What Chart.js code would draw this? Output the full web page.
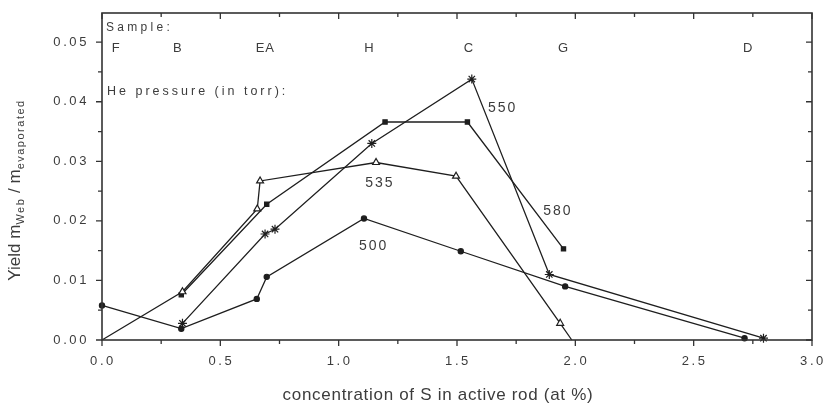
<!DOCTYPE html>
<html>
<head>
<meta charset="UTF-8" />
<title>Yield vs S concentration</title>
<script src="https://cdn.jsdelivr.net/npm/chart.js"></script>
<style>
  body { margin: 0; background: #fff; }
</style>
</head>
<body>
<canvas id="yieldChart" width="823" height="405"></canvas>
<script>
// He pressure series (torr): x = S concentration (at %), y = yield
const s500x = [0.0, 0.335, 0.654, 0.696, 1.107, 1.516, 1.957, 2.715];
const s500y = [0.0058, 0.0019, 0.0069, 0.0106, 0.0204, 0.0149, 0.0090, 0.0003];

const s535x = [0.0, 0.34, 0.656, 0.668, 1.158, 1.496, 1.936, 1.985];
const s535y = [0.0, 0.0081, 0.0220, 0.0267, 0.0298, 0.0275, 0.0028, 0.0];

const s550x = [0.34, 0.689, 0.731, 1.14, 1.5625, 1.89, 2.795];
const s550y = [0.0028, 0.0178, 0.0186, 0.0330, 0.0438, 0.0110, 0.0003];

const s580x = [0.335, 0.696, 1.196, 1.544, 1.95];
const s580y = [0.0076, 0.0228, 0.0366, 0.0366, 0.0153];

// sample names and where they sit on the concentration axis
const sampleNames = ["F", "B", "EA", "H", "C", "G", "D"];
const sampleAt = [0.06, 0.32, 0.69, 1.13, 1.55, 1.95, 2.73];

// pressure labels next to the curves (data coordinates)
const pressureNames = ["550", "535", "580", "500"];
const pressureAtX = [1.631, 1.112, 1.864, 1.086];
const pressureAtY = [0.039, 0.0263, 0.0217, 0.0157];

// axis ticks
const xLabels = [0, 0.5, 1.0, 1.5, 2.0, 2.5, 3.0];
const yLabels = [0, 0.01, 0.02, 0.03, 0.04, 0.05];
const xMax = 3.0;
const yMax = 0.0549;

const FONT = '"Liberation Sans", Arial, sans-serif';
const INK = "#1e1e1e";
const TEXT = "#3c3c3c";

function pts(xs, ys) {
  return xs.map((v, i) => ({ x: v, y: ys[i] }));
}

const frame = {
  id: "frame",
  afterDraw(chart) {
    const { ctx, chartArea: a, scales } = chart;
    const x = scales.x, y = scales.y;
    ctx.save();
    ctx.strokeStyle = "#333";
    ctx.lineWidth = 1.6;
    ctx.strokeRect(a.left, a.top, a.right - a.left, a.bottom - a.top);

    // ticks: out on bottom/left, in on top/right
    ctx.lineWidth = 1.3;
    ctx.beginPath();
    for (let i = 0; i <= 12; i++) {
      const px = x.getPixelForValue(i * 0.25);
      const len = i % 2 ? 4 : 6;
      ctx.moveTo(px, a.bottom); ctx.lineTo(px, a.bottom + len);
      ctx.moveTo(px, a.top); ctx.lineTo(px, a.top + len);
    }
    for (let i = 0; i <= 10; i++) {
      const py = y.getPixelForValue(i * 0.005);
      const len = i % 2 ? 4 : 6;
      ctx.moveTo(a.left, py); ctx.lineTo(a.left - len, py);
      ctx.moveTo(a.right, py); ctx.lineTo(a.right - len, py);
    }
    ctx.stroke();

    ctx.fillStyle = TEXT;
    ctx.textBaseline = "middle";

    // tick labels
    ctx.font = "13px " + FONT;
    ctx.letterSpacing = "2.6px";
    ctx.textAlign = "center";
    xLabels.forEach((v) => {
      ctx.fillText(v.toFixed(1), x.getPixelForValue(v) + 1, a.bottom + 21);
    });
    ctx.textAlign = "right";
    yLabels.forEach((v) => {
      ctx.fillText(v.toFixed(2), a.left - 13, y.getPixelForValue(v));
    });

    // sample row
    ctx.font = "12px " + FONT;
    ctx.letterSpacing = "3.3px";
    ctx.textAlign = "left";
    ctx.fillText("Sample:", a.left + 4, a.top + 15);
    ctx.letterSpacing = "1px";
    ctx.font = "13px " + FONT;
    ctx.textAlign = "center";
    sampleNames.forEach((n, i) => {
      ctx.fillText(n, x.getPixelForValue(sampleAt[i]), a.top + 35);
    });

    ctx.font = "12.5px " + FONT;
    ctx.letterSpacing = "3px";
    ctx.textAlign = "left";
    ctx.fillText("He pressure (in torr):", a.left + 5, a.top + 79);

    // curve labels
    ctx.font = "14px " + FONT;
    ctx.letterSpacing = "2px";
    pressureNames.forEach((n, i) => {
      ctx.fillText(n, x.getPixelForValue(pressureAtX[i]), y.getPixelForValue(pressureAtY[i]));
    });

    // x axis title
    ctx.font = "17px " + FONT;
    ctx.letterSpacing = "0.7px";
    ctx.textAlign = "center";
    ctx.fillText("concentration of S in active rod (at %)", 438, 395);

    // y axis title with subscripts
    const parts = [
      ["Yield m", 17, 0, 0],
      ["Web", 11, 4, 1.5],
      [" / m", 17, 0, 0],
      ["evaporated", 11, 4, 1.5],
    ];
    let w = 0;
    parts.forEach(([t, s, dy, ls]) => {
      ctx.font = s + "px " + FONT;
      ctx.letterSpacing = ls + "px";
      w += ctx.measureText(t).width;
    });
    ctx.translate(20, 190);
    ctx.rotate(-Math.PI / 2);
    ctx.textAlign = "left";
    ctx.textBaseline = "alphabetic";
    let tx = -w / 2;
    parts.forEach(([t, s, dy, ls]) => {
      ctx.font = s + "px " + FONT;
      ctx.letterSpacing = ls + "px";
      ctx.fillText(t, tx, dy);
      tx += ctx.measureText(t).width;
    });
    ctx.restore();
  },
};

function series(xs, ys, style, r, fill) {
  return {
    data: pts(xs, ys),
    showLine: true,
    borderColor: INK,
    borderWidth: 1.3,
    pointStyle: style,
    pointRadius: r,
    pointBorderColor: INK,
    pointBorderWidth: 1.2,
    pointBackgroundColor: fill,
    tension: 0,
    clip: false,
  };
}

const ds535 = series(s535x, s535y, "triangle", 4, "#fff");
ds535.pointRadius = s535x.map((v, i) => (i === 0 || i === s535x.length - 1 ? 0 : 4));

new Chart(document.getElementById("yieldChart"), {
  type: "scatter",
  data: {
    datasets: [
      series(s500x, s500y, "circle", 2.6, INK),
      ds535,
      series(s550x, s550y, "star", 4.5, INK),
      series(s580x, s580y, "rect", 3, INK),
    ],
  },
  options: {
    responsive: false,
    animation: false,
    layout: { padding: { top: 13, right: 11, left: 0, bottom: 0 } },
    plugins: { legend: { display: false }, tooltip: { enabled: false } },
    scales: {
      x: {
        type: "linear",
        min: 0,
        max: xMax,
        afterFit(s) { s.height = 65; },
        grid: { display: false, drawTicks: false },
        border: { display: false },
        ticks: { display: false },
      },
      y: {
        type: "linear",
        min: 0,
        max: yMax,
        afterFit(s) { s.width = 102; },
        grid: { display: false, drawTicks: false },
        border: { display: false },
        ticks: { display: false },
      },
    },
  },
  plugins: [frame],
});
</script>
</body>
</html>
